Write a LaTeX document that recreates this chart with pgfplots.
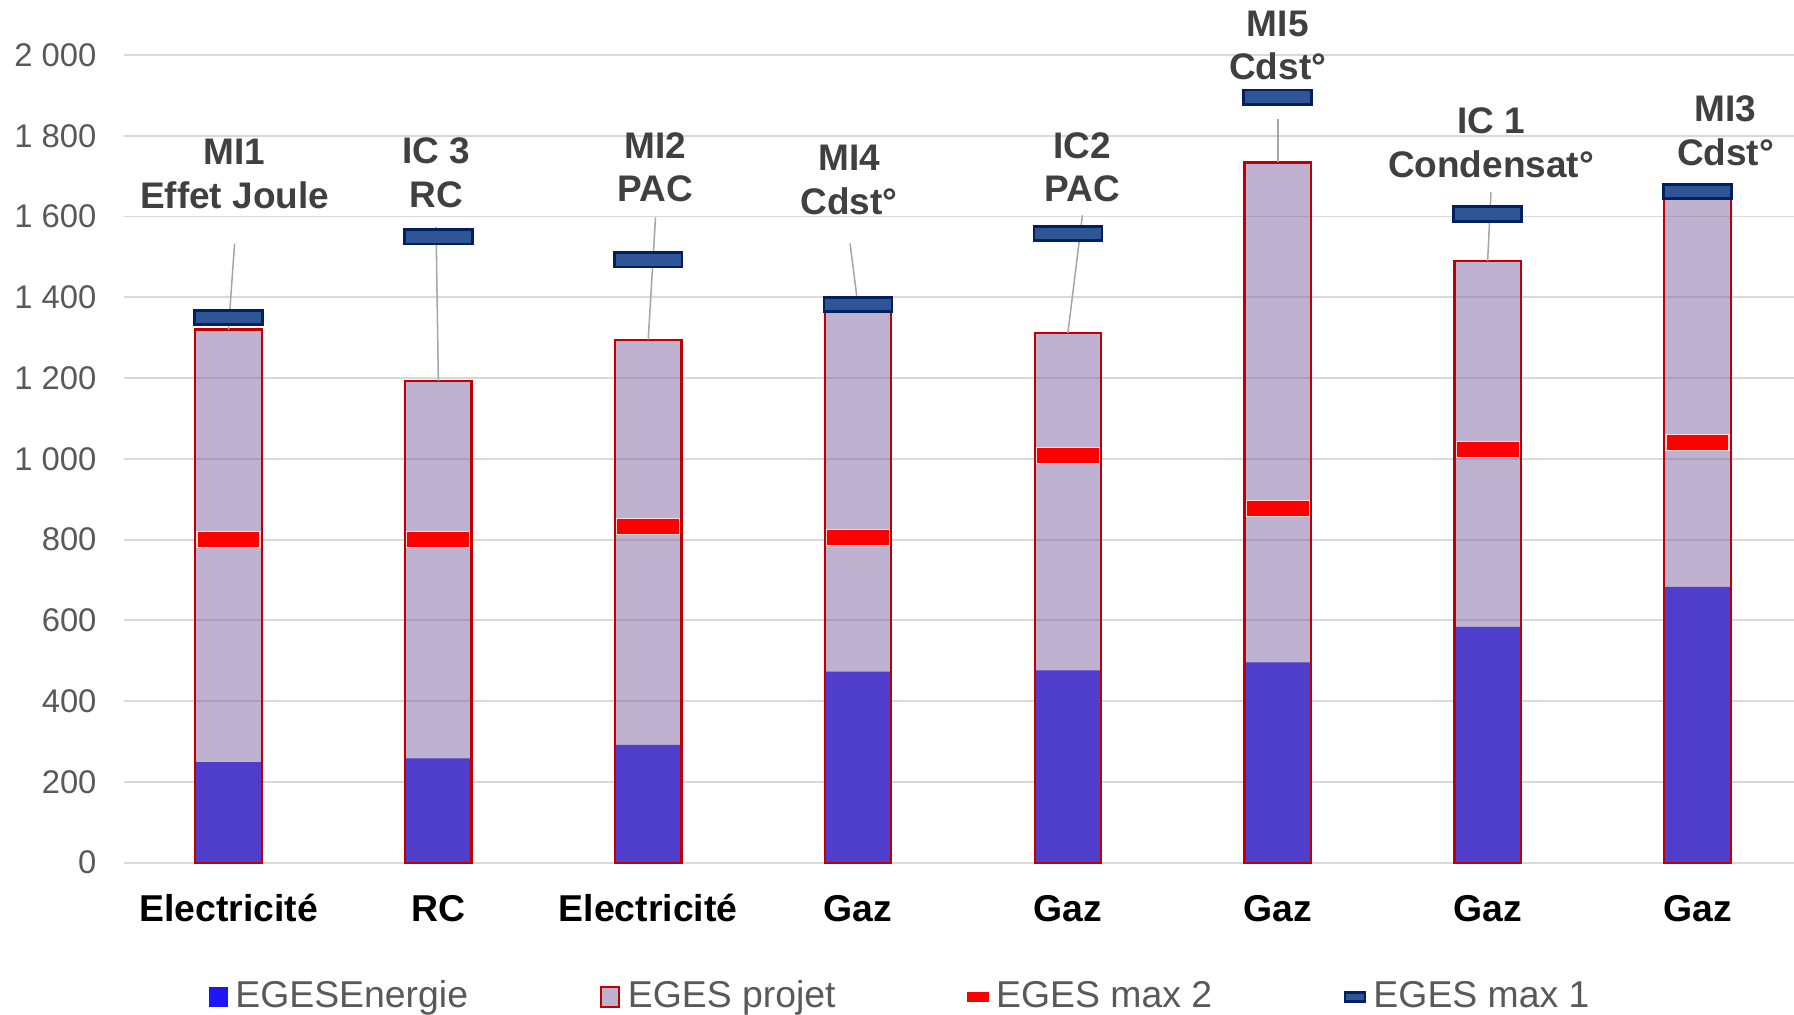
\documentclass[border=0pt]{standalone}
\usepackage{pgfplots}
\pgfplotsset{compat=1.18}
\usepackage{fontspec}
\setmainfont{Liberation Sans}
\definecolor{eblue}{HTML}{1E16F6}
\definecolor{eproj}{HTML}{8064A2}
\definecolor{eprojd}{HTML}{C00000}
\definecolor{navyf}{HTML}{2F5597}
\definecolor{navyd}{HTML}{002060}
\definecolor{tickgray}{HTML}{595959}
\definecolor{labgray}{HTML}{404040}
\definecolor{gridgray}{HTML}{D9D9D9}
\definecolor{leadgray}{HTML}{A6A6A6}
\pgfdeclareplotmark{maxone}{\pgfpathrectangle{\pgfpoint{-8.9pt}{-1.9pt}}{\pgfpoint{17.8pt}{3.8pt}}\pgfusepathqfillstroke}
\pgfdeclareplotmark{maxtwo}{\pgfsetcornersarced{\pgfpoint{1pt}{1pt}}\pgfpathrectangle{\pgfpoint{-8.25pt}{-2.1pt}}{\pgfpoint{16.5pt}{4.2pt}}\pgfusepathqfillstroke}
\begin{document}
\begin{tikzpicture}
\begin{axis}[
  at={(0,0)}, anchor=south west,
  scale only axis, width=438pt, height=211.8pt,
  xmin=-0.5, xmax=7.46, ymin=0, ymax=2000,
  clip=false,
  axis line style={draw=none}, tick style={draw=none},
  ymajorgrids, major grid style={color=gridgray, line width=0.5pt},
  ytick={0,200,400,600,800,1000,1200,1400,1600,1800,2000},
  yticklabels={0,200,400,600,800,1 000,1 200,1 400,1 600,1 800,2 000},
  yticklabel style={font=\fontsize{8.6}{10}\selectfont, text=tickgray, inner sep=0pt, anchor=east, xshift=-6.9pt},
  xtick={0,1,2,3,4,5,6,7},
  xticklabels={Electricité,RC,Electricité,Gaz,Gaz,Gaz,Gaz,Gaz},
  xticklabel style={font=\fontsize{9.8}{11}\selectfont\bfseries, text=black, inner sep=0pt, anchor=base, yshift=-15.3pt},
  legend columns=4,
  legend style={draw=none, fill=none, inner sep=0pt, outer sep=0pt,
    at={(0.0514,-0.1663)}, anchor=west,
    font=\fontsize{9.8}{11}\selectfont, text=tickgray,
    nodes={inner sep=0pt},
    /tikz/every odd column/.append style={column sep=2.0pt},
    /tikz/every even column/.append style={column sep=34.5pt}},
]
\addplot[ybar, bar width=17.4pt, bar shift=0pt, fill=eblue, draw=none,
  legend image code/.code={\fill[eblue] (0pt,-2.7pt) rectangle (4.8pt,2.7pt);}]
  coordinates {(0,249) (1,258) (2,292) (3,473) (4,476) (5,496) (6,584) (7,683)};
\addlegendentry{EGESEnergie}
\addplot[ybar, bar width=17.4pt, bar shift=0pt, fill=eproj, fill opacity=0.5, draw=eprojd, line width=0.6pt,
  legend image code/.code={\draw[fill=eproj, fill opacity=0.5, draw=eprojd, line width=0.6pt] (0pt,-2.7pt) rectangle (4.8pt,2.7pt);}]
  coordinates {(0,1320) (1,1193) (2,1295) (3,1371) (4,1312) (5,1734) (6,1490) (7,1648)};
\addlegendentry{EGES projet}
\addplot[only marks, mark=maxtwo, mark options={fill=red, draw=red!15, line width=0.3pt},
  legend image code/.code={\fill[red] (0pt,-1.2pt) rectangle (5.2pt,1.2pt);}]
  coordinates {(0,800) (1,800) (2,833) (3,805) (4,1008) (5,878) (6,1023) (7,1040)};
\addlegendentry{EGES max 2}
\addplot[only marks, mark=maxone, mark options={fill=navyf, draw=navyd, line width=0.7pt},
  legend image code/.code={\draw[fill=navyf, draw=navyd, line width=0.6pt] (0pt,-1.2pt) rectangle (5.2pt,1.2pt);}]
  coordinates {(0,1350) (1,1550) (2,1493) (3,1382) (4,1558) (5,1895) (6,1606) (7,1662)};
\addlegendentry{EGES max 1}
% leader lines
\addplot[forget plot, leadgray, line width=0.4pt] coordinates {(0.029,1533) (0,1320)};
\addplot[forget plot, leadgray, line width=0.4pt] coordinates {(0.989,1575) (1,1193)};
\addplot[forget plot, leadgray, line width=0.4pt] coordinates {(2.035,1598) (2,1295)};
\addplot[forget plot, leadgray, line width=0.4pt] coordinates {(2.962,1533) (3,1377)};
\addplot[forget plot, leadgray, line width=0.4pt] coordinates {(4.069,1603) (4,1312)};
\addplot[forget plot, leadgray, line width=0.4pt] coordinates {(5,1841) (5,1734)};
\addplot[forget plot, leadgray, line width=0.4pt] coordinates {(6.016,1660) (6,1490)};
% data labels
\begin{scope}[every node/.style={align=center, anchor=center, text=labgray, font=\fontsize{9.7}{11.4}\selectfont\bfseries}]
\node at (axis cs:0.029,1705) {MI1\\Effet Joule};
\node at (axis cs:0.989,1708) {IC 3\\RC};
\node at (axis cs:2.035,1722) {MI2\\PAC};
\node at (axis cs:2.957,1691) {MI4\\Cdst°};
\node at (axis cs:4.069,1722) {IC2\\PAC};
\node at (axis cs:5.0,2024) {MI5\\Cdst°};
\node at (axis cs:6.016,1782) {IC 1\\Condensat°};
\node at (axis cs:7.134,1812) {MI3\\Cdst°};
\end{scope}
\end{axis}
\pgfresetboundingbox
\path[use as bounding box] (-32.4pt,-39.9pt) rectangle (438pt,226.2pt);
\end{tikzpicture}
\end{document}
